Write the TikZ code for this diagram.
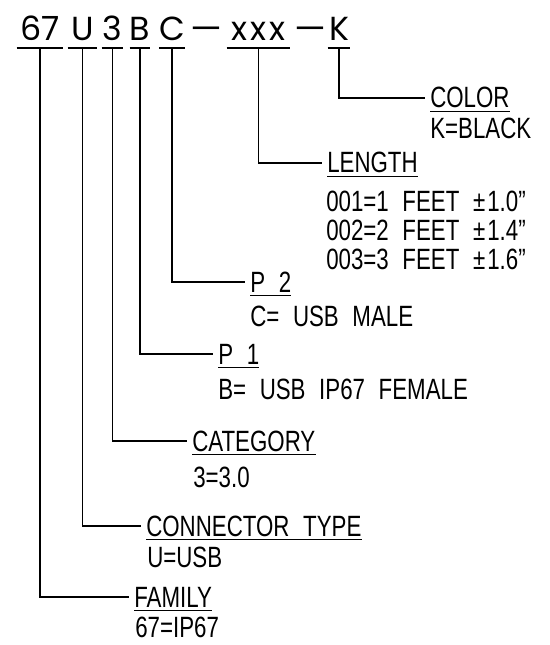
\documentclass[tikz,border=0pt]{standalone}
\usepackage{fontspec}
\setmainfont{Liberation Sans}[FakeStretch=0.76, WordSpace=2.2]
\newfontfamily\codefont{Poppins}
\usetikzlibrary{positioning}

\begin{document}
\begin{tikzpicture}[x=0.75pt, y=-0.75pt]
    \tikzstyle{field} = [inner xsep=0pt, inner ysep=5pt, anchor=base, font=\codefont\fontsize{25pt}{25pt}\selectfont]
    \tikzstyle{title} = [inner xsep=3.75pt, inner ysep=2.25pt, anchor=base west, font=\fontsize{22pt}{21.75pt}\selectfont]
    \tikzstyle{value} = [inner sep=0pt, align=left, font=\fontsize{22pt}{21.75pt}\selectfont]
    \tikzstyle{line} = [draw, line width=1.2pt]
    \tikzstyle{rule} = [draw, line width=1pt]

    \useasboundingbox (0,0) rectangle (549,645);

    % part number fields
    \node [field, minimum width=34.5pt] (fam) at (40,41) {67};
    \node [field, minimum width=21.75pt] (fcon) at (82.5,41) {U};
    \node [field, minimum width=15.75pt] (fcat) at (112.5,41) {3};
    \node [field, minimum width=15pt] (fpa) at (140,41) {B};
    \node [field, minimum width=15pt] (fpb) at (172,41) {C};
    \node [field] (dasha) at (206.5,41) {\scalebox{1.5}[1]{–}};
    \node [field, minimum width=47.25pt] (flen) at (258.5,41) {x\kern2.5pt x\kern2.5pt x};
    \node [field] (dashb) at (310,41) {\scalebox{1.5}[1]{–}};
    \node [field, minimum width=16.5pt] (fcol) at (339,41) {K};

    \foreach \f in {fam,fcon,fcat,fpa,fpb,flen,fcol}
        \path [rule] (\f.south west) -- (\f.south east);

    % callouts
    \node [title] (tcol) at (425,108) {COLOR};
    \node [value, anchor=base west] (vcol) at (430,139) {K=BLACK};
    \node [title] (tlen) at (322,173) {LENGTH};
    \node [value, anchor=north west] (vlen) at (326,191) {001=1 FEET ±\kern1.5pt1.0”\\002=2 FEET ±\kern1.5pt1.4”\\003=3 FEET ±\kern1.5pt1.6”};
    \node [title] (tpb) at (245,292) {P 2};
    \node [value, anchor=base west] (vpb) at (250,326) {C= USB MALE};
    \node [title] (tpa) at (213,364) {P 1};
    \node [value, anchor=base west] (vpa) at (218,399) {B= USB IP67 FEMALE};
    \node [title] (tcat) at (187,451) {CATEGORY};
    \node [value, anchor=base west] (vcat) at (193,487) {3=3.0};
    \node [title] (tcon) at (141,536) {CONNECTOR TYPE};
    \node [value, anchor=base west] (vcon) at (147,567) {U=USB};
    \node [title] (tfam) at (129,607) {FAMILY};
    \node [value, anchor=base west] (vfam) at (135,637) {67=IP67};

    \foreach \t in {tcol,tlen,tpb,tpa,tcat,tcon,tfam}
        \path [rule, shorten <=3.75pt, shorten >=3.75pt] (\t.south west) -- (\t.south east);

    \path [line] (fcol.south) |- (tcol.west);
    \path [line] (flen.south) |- (tlen.west);
    \path [line] (fpb.south) |- (tpb.west);
    \path [line] (fpa.south) |- (tpa.west);
    \path [line] (fcat.south) |- (tcat.west);
    \path [line] (fcon.south) |- (tcon.west);
    \path [line] (fam.south) |- (tfam.west);
\end{tikzpicture}
\end{document}
